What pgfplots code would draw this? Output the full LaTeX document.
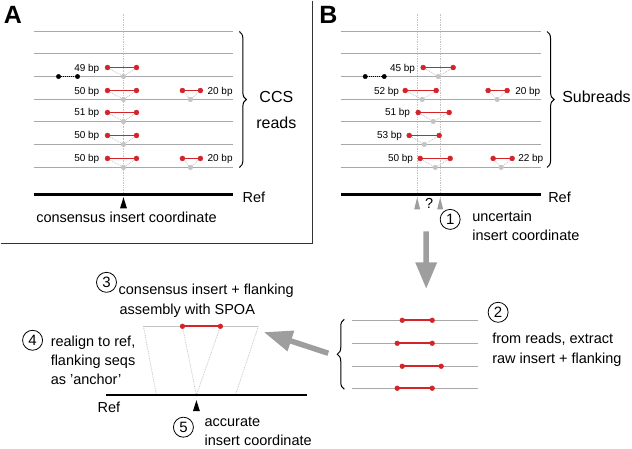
\documentclass[border=0pt]{standalone}
\usepackage{pgfplots}
\pgfplotsset{compat=1.18}
\usepackage{fontspec}
\setmainfont{Liberation Sans}
\usetikzlibrary{decorations.pathreplacing}
\definecolor{lgray}{RGB}{168,168,168}
\definecolor{vgray}{RGB}{195,195,195}
\definecolor{redc}{RGB}{212,36,42}
\definecolor{agray}{RGB}{158,158,158}
\tikzset{
  txt/.style={inner sep=0pt, anchor=base west, font=\fontsize{14.5}{17}\selectfont},
  bp/.style={inner sep=0pt, font=\fontsize{10}{12}\selectfont},
  num/.style={circle, draw, line width=0.8pt, minimum size=20pt, inner sep=0pt, font=\fontsize{15}{18}\selectfont},
}
\begin{document}
\begin{tikzpicture}
\begin{axis}[
  scale only axis, width=632pt, height=448pt,
  xmin=0, xmax=632, ymin=0, ymax=448, y dir=reverse,
  hide axis, clip=false, unbounded coords=jump,
  ]
% frame of panel A
\addplot[black!80, line width=1.2pt] coordinates {(312,0) (312,243) (0,243)};
% ---------------- panel A ----------------
\addplot[vgray, line width=0.7pt, densely dotted] coordinates {(123,13) (123,197)};
\addplot[lgray, line width=1.4pt] coordinates {
 (33,31) (233,31) (nan,nan) (33,53) (233,53) (nan,nan) (33,76) (233,76) (nan,nan)
 (33,99) (233,99) (nan,nan) (33,121) (233,121) (nan,nan) (33,144) (233,144) (nan,nan) (33,167) (233,167)};
\addplot[black, line width=2.3pt] coordinates {(33,194) (233,194)};
\addplot[vgray, line width=0.8pt, densely dotted] coordinates {
 (107,67) (123,76) (136,67) (nan,nan) (107,90) (123,99) (136,90) (nan,nan)
 (107,112) (123,121) (136,112) (nan,nan) (107,135) (123,144) (136,135) (nan,nan)
 (107,158) (123,167) (136,158) (nan,nan) (182,90) (190,99) (200,90) (nan,nan)
 (182,158) (190,167) (200,158)};
\addplot[only marks, mark=*, mark size=2.3pt, color=vgray] coordinates {
 (123,76) (123,99) (123,121) (123,144) (123,167) (190,99) (190,167)};
\addplot[redc, line width=1.8pt] coordinates {
 (107,67) (136,67) (nan,nan) (107,90) (136,90) (nan,nan) (107,112) (136,112) (nan,nan)
 (107,135) (136,135) (nan,nan) (107,158) (136,158) (nan,nan) (182,90) (200,90) (nan,nan) (182,158) (200,158)};
\addplot[only marks, mark=*, mark size=2.5pt, redc] coordinates {
 (107,67) (136,67) (107,90) (136,90) (107,112) (136,112) (107,135) (136,135) (107,158) (136,158)
 (182,90) (200,90) (182,158) (200,158)};
\addplot[black, line width=1pt, densely dotted] coordinates {(58,76) (77,76)};
\addplot[only marks, mark=*, mark size=2.2pt, black] coordinates {(58,76) (77,76)};
\addplot[black, fill=black, draw=none] coordinates {(119.5,208) (126.5,208) (123,197) (119.5,208)};
\node[bp, anchor=base east] at (axis cs:99,70.5) {49 bp};
\node[bp, anchor=base east] at (axis cs:99,93.5) {50 bp};
\node[bp, anchor=base east] at (axis cs:99,115.5) {51 bp};
\node[bp, anchor=base east] at (axis cs:99,138.5) {50 bp};
\node[bp, anchor=base east] at (axis cs:99,161.5) {50 bp};
\node[bp, anchor=base west] at (axis cs:207,93.5) {20 bp};
\node[bp, anchor=base west] at (axis cs:207,161.5) {20 bp};
\draw[decorate, decoration={brace, amplitude=7pt}, line width=1pt] (axis cs:239,31) -- (axis cs:239,167);
\node[inner sep=0pt, anchor=base, font=\fontsize{16}{19}\selectfont] at (axis cs:276,102) {CCS};
\node[inner sep=0pt, anchor=base, font=\fontsize{16}{19}\selectfont] at (axis cs:276,128) {reads};
\node[txt] at (axis cs:242,202) {Ref};
\node[txt, anchor=base] at (axis cs:126,222) {consensus insert coordinate};
\node[inner sep=0pt, anchor=base west, font=\fontsize{25}{30}\selectfont\bfseries] at (axis cs:3,23) {A};
% ---------------- panel B ----------------
\addplot[vgray, line width=0.7pt, densely dotted] coordinates {(417,13) (417,197) (nan,nan) (440,13) (440,197)};
\addplot[lgray, line width=1.4pt] coordinates {
 (341,31) (541,31) (nan,nan) (341,53) (541,53) (nan,nan) (341,76) (541,76) (nan,nan)
 (341,99) (541,99) (nan,nan) (341,121) (541,121) (nan,nan) (341,144) (541,144) (nan,nan) (341,167) (541,167)};
\addplot[black, line width=2.3pt] coordinates {(341,194) (541,194)};
\addplot[vgray, line width=0.8pt, densely dotted] coordinates {
 (423,67) (438,76) (453,67) (nan,nan) (405,90) (422,99) (436,90) (nan,nan)
 (418,112) (433,121) (449,112) (nan,nan) (409,135) (424,144) (439,135) (nan,nan)
 (420,158) (435,167) (450,158) (nan,nan) (488,90) (497,99) (507,90) (nan,nan)
 (493,158) (501,167) (512,158)};
\addplot[only marks, mark=*, mark size=2.3pt, color=vgray] coordinates {
 (438,76) (422,99) (433,121) (424,144) (435,167) (497,99) (501,167)};
\addplot[redc, line width=1.8pt] coordinates {
 (423,67) (453,67) (nan,nan) (405,90) (436,90) (nan,nan) (418,112) (449,112) (nan,nan)
 (409,135) (439,135) (nan,nan) (420,158) (450,158) (nan,nan) (488,90) (507,90) (nan,nan) (493,158) (512,158)};
\addplot[only marks, mark=*, mark size=2.5pt, redc] coordinates {
 (423,67) (453,67) (405,90) (436,90) (418,112) (449,112) (409,135) (439,135) (420,158) (450,158)
 (488,90) (507,90) (493,158) (512,158)};
\addplot[black, line width=1pt, densely dotted] coordinates {(365,76) (384,76)};
\addplot[only marks, mark=*, mark size=2.2pt, black] coordinates {(365,76) (384,76)};
\addplot[agray, fill=agray, draw=none] coordinates {(414,209) (420,209) (417,197) (414,209)};
\addplot[agray, fill=agray, draw=none] coordinates {(437,209) (443,209) (440,197) (437,209)};
\node[bp, anchor=base east] at (axis cs:415,70.5) {45 bp};
\node[bp, anchor=base east] at (axis cs:399,93.5) {52 bp};
\node[bp, anchor=base east] at (axis cs:410,115.5) {51 bp};
\node[bp, anchor=base east] at (axis cs:402,138.5) {53 bp};
\node[bp, anchor=base east] at (axis cs:413,161.5) {50 bp};
\node[bp, anchor=base west] at (axis cs:515,93.5) {20 bp};
\node[bp, anchor=base west] at (axis cs:518,161.5) {22 bp};
\draw[decorate, decoration={brace, amplitude=7pt}, line width=1pt] (axis cs:547,31) -- (axis cs:547,167);
\node[inner sep=0pt, anchor=base west, font=\fontsize{16}{19}\selectfont] at (axis cs:562,102) {Subreads};
\node[txt] at (axis cs:548,202) {Ref};
\node[txt, anchor=base] at (axis cs:429,208) {?};
\node[inner sep=0pt, anchor=base west, font=\fontsize{25}{30}\selectfont\bfseries] at (axis cs:319,23) {B};
\node[num] at (axis cs:450,219) {1};
\node[txt] at (axis cs:472,221) {uncertain};
\node[txt] at (axis cs:472,240) {insert coordinate};
% ---------------- big arrows ----------------
\addplot[agray, fill=agray, draw=none] coordinates {
 (423.2,231) (428.8,231) (428.8,262) (437,262) (426,288) (415,262) (423.2,262) (423.2,231)};
\addplot[agray, fill=agray, draw=none] coordinates {
 (328.86,350.39) (291.46,338.09) (294.03,330.25) (264,332) (287.17,351.15) (289.74,343.31) (327.14,355.61) (328.86,350.39)};
% ---------------- step 2 ----------------
\addplot[lgray, line width=1.4pt] coordinates {
 (352,320) (478,320) (nan,nan) (352,343) (478,343) (nan,nan) (352,366) (478,366) (nan,nan) (352,388) (478,388)};
\addplot[redc, line width=1.8pt] coordinates {
 (402,320) (432,320) (nan,nan) (397,343) (432,343) (nan,nan) (402,366) (441,366) (nan,nan) (397,388) (432,388)};
\addplot[only marks, mark=*, mark size=2.4pt, redc] coordinates {
 (402,320) (432,320) (397,343) (432,343) (402,366) (441,366) (397,388) (432,388)};
\draw[decorate, decoration={brace, amplitude=7pt}, line width=1pt] (axis cs:344,389) -- (axis cs:344,319);
\node[num] at (axis cs:498,312) {2};
\node[txt] at (axis cs:492,343) {from reads, extract};
\node[txt] at (axis cs:492,363) {raw insert + flanking};
% ---------------- steps 3-5 ----------------
\addplot[vgray, line width=0.8pt, densely dotted] coordinates {
 (143,326) (156,395) (nan,nan) (182,326) (196,395) (220,326) (nan,nan) (258,326) (235,395)};
\addplot[vgray, line width=1pt] coordinates {(143,326) (258,326)};
\addplot[redc, line width=1.8pt] coordinates {(182,326) (220,326)};
\addplot[only marks, mark=*, mark size=2.4pt, redc] coordinates {(182,326) (220,326)};
\addplot[black, line width=2.3pt] coordinates {(106,395) (307,395)};
\addplot[black, fill=black, draw=none] coordinates {(192.5,411) (199.5,411) (196,400) (192.5,411)};
\node[num] at (axis cs:106,282) {3};
\node[txt] at (axis cs:118,294) {consensus insert + flanking};
\node[txt] at (axis cs:119,314) {assembly with SPOA};
\node[num] at (axis cs:32,340) {4};
\node[txt] at (axis cs:50,346) {realign to ref,};
\node[txt] at (axis cs:50,365) {flanking seqs};
\node[txt] at (axis cs:50,384) {as 'anchor'};
\node[txt] at (axis cs:97,412) {Ref};
\node[num] at (axis cs:183,427) {5};
\node[txt] at (axis cs:204,426) {accurate};
\node[txt] at (axis cs:204,445) {insert coordinate};
\path (axis cs:0,0) rectangle (axis cs:632,448);
\end{axis}
\end{tikzpicture}
\end{document}
